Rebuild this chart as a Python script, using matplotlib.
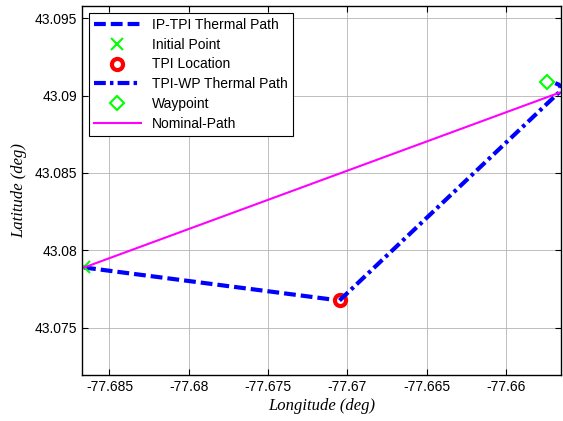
import matplotlib
matplotlib.use("Agg")
import matplotlib.pyplot as plt

plt.rcParams['lines.scale_dashes'] = False

# Data
ip_tpi_lon = [-77.6866, -77.6705]
ip_tpi_lat = [43.0789, 43.07677]

initial_lon = [-77.6866]
initial_lat = [43.0789]

tpi_lon = [-77.6705]
tpi_lat = [43.07677]

tpi_wp_lon = [-77.6705, -77.65667, -77.65654, -77.65667, -77.6569]
tpi_wp_lat = [43.07677, 43.0902, 43.0905, 43.0907, 43.0908]

wp_lon = [-77.6574]
wp_lat = [43.0909]

nominal_lon = [-77.6866, -77.6566]
nominal_lat = [43.0789, 43.0902]

xticks = [-77.685, -77.68, -77.675, -77.67, -77.665, -77.66]
yticks = [43.075, 43.08, 43.085, 43.09, 43.095]

fig = plt.figure(figsize=(5.63, 4.21), dpi=100)
ax = fig.add_axes([82/563, 46/421, (561-82)/563, (375-6)/421])

l1, = ax.plot(ip_tpi_lon, ip_tpi_lat, color=(0, 0, 1), lw=3, label='IP-TPI Thermal Path')
l1.set_dashes((8.5, 3.6))
ax.plot(initial_lon, initial_lat, ls='none', marker='x', color=(0, 1, 0), ms=9, mew=1.5, label='Initial Point')
ax.plot(tpi_lon, tpi_lat, ls='none', marker='o', mec=(1, 0, 0), mfc='white', ms=8, mew=3, label='TPI Location')
l4, = ax.plot(tpi_wp_lon, tpi_wp_lat, color=(0, 0, 1), lw=3, label='TPI-WP Thermal Path')
l4.set_dashes((8.5, 3, 2.5, 3))
ax.plot(wp_lon, wp_lat, ls='none', marker='D', mec=(0, 1, 0), mfc='none', ms=7, mew=1.5, label='Waypoint')
ax.plot(nominal_lon, nominal_lat, color=(1, 0, 1), lw=1.5, label='Nominal-Path')

ax.set_xlim(-77.68673, -77.65654)
ax.set_ylim(43.07196, 43.09578)
ax.set_xticks(xticks)
ax.set_xticklabels(['-77.685', '-77.68', '-77.675', '-77.67', '-77.665', '-77.66'])
ax.set_yticks(yticks)
ax.set_yticklabels(['43.075', '43.08', '43.085', '43.09', '43.095'])
ax.grid(True, color='#b4b4b4', lw=0.6)
ax.set_axisbelow(True)
ax.tick_params(direction='in', length=4, labelsize=10, width=0.8, top=True, right=True)
for lab in ax.get_xticklabels() + ax.get_yticklabels():
    lab.set_fontfamily('Liberation Sans')
for s in ax.spines.values():
    s.set_linewidth(1.0)

ax.set_xlabel('Longitude (deg)', family='Liberation Serif', style='italic', fontsize=12, labelpad=3)
ax.set_ylabel('Latitude (deg)', family='Liberation Serif', style='italic', fontsize=12, labelpad=5)

leg = ax.legend(loc='upper left', prop={'family': 'Liberation Sans', 'size': 10},
                fancybox=False, edgecolor='black', framealpha=1, handlelength=3.4,
                borderaxespad=0.5, labelspacing=0.42, handletextpad=0.8, borderpad=0.35)
leg.get_frame().set_linewidth(0.8)

fig.savefig('out.png', dpi=100)
